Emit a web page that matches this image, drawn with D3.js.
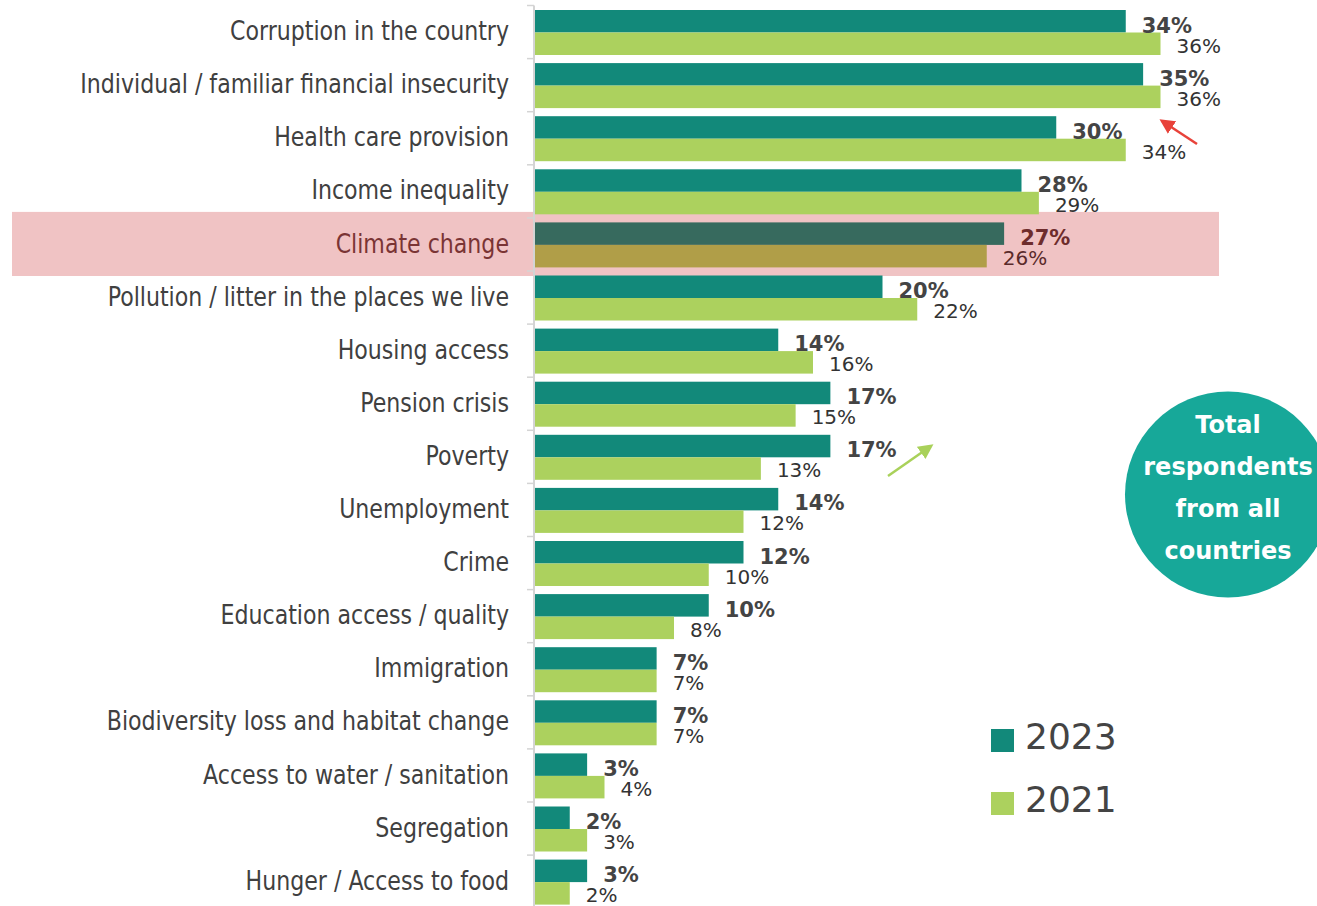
<!DOCTYPE html>
<html>
<head>
<meta charset="utf-8">
<script src="https://cdn.jsdelivr.net/npm/d3@7"></script>
<style>
  html, body { margin: 0; padding: 0; background: #ffffff; }
  svg { display: block; }
</style>
</head>
<body>
<svg id="chart" width="1317" height="906"></svg>
<script>
// Concerns, ordered as presented
const categories = [
  "Corruption in the country",
  "Individual / familiar financial insecurity",
  "Health care provision",
  "Income inequality",
  "Climate change",
  "Pollution / litter in the places we live",
  "Housing access",
  "Pension crisis",
  "Poverty",
  "Unemployment",
  "Crime",
  "Education access / quality",
  "Immigration",
  "Biodiversity loss and habitat change",
  "Access to water / sanitation",
  "Segregation",
  "Hunger / Access to food"
];
// Share of respondents (%) per survey year
const values2023 = [34, 35, 30, 28, 27, 20, 14, 17, 17, 14, 12, 10, 7, 7, 3, 2, 3];
const values2021 = [36, 36, 34, 29, 26, 22, 16, 15, 13, 12, 10, 8, 7, 7, 4, 3, 2];
const years = ["2023", "2021"];
const highlighted = "Climate change";
const badgeLines = ["Total", "respondents", "from all", "countries"];

const svg = d3.select("#chart");
const labelFont = "'DejaVu Sans Condensed', 'DejaVu Sans', sans-serif";
const valueFont = "'DejaVu Sans', Verdana, sans-serif";

const colors = { "2023": "#12897a", "2021": "#acd15e" };
const hiColors = { "2023": "#376a5e", "2021": "#b09e48" };

const x = d3.scaleLinear().domain([0, 40]).range([535, 1230]);
const y = d3.scaleBand().domain(categories).range([5.5, 908.2]).padding(0);
const sub = d3.scaleBand().domain(years).range([4.5, 49.5]).padding(0);

const rows = categories.map((c, i) => ({
  cat: c,
  vals: { "2023": values2023[i], "2021": values2021[i] }
}));

// highlight band behind the emphasised concern
svg.append("rect")
  .attr("x", 12)
  .attr("y", y(highlighted) - 6)
  .attr("width", 1219 - 12)
  .attr("height", y.bandwidth() + 11)
  .attr("fill", "#f0c3c4");

// axis line with ticks at row boundaries
const axisG = svg.append("g");
axisG.append("line")
  .attr("x1", 534).attr("x2", 534)
  .attr("y1", y.range()[0]).attr("y2", 906)
  .attr("stroke", "#d4d4d4").attr("stroke-width", 2);
axisG.selectAll("line.tick")
  .data(categories)
  .join("line")
  .attr("class", "tick")
  .attr("x1", 527).attr("x2", 534)
  .attr("y1", d => y(d)).attr("y2", d => y(d))
  .attr("stroke", "#d4d4d4").attr("stroke-width", 1.5);

// category labels (narrowed horizontally to a condensed width)
const yAxis = d3.axisLeft(y).tickSize(0).tickPadding(0);
const yAxisG = svg.append("g")
  .attr("transform", "translate(509,0) scale(0.91,1)")
  .call(yAxis);
yAxisG.select(".domain").remove();
yAxisG.selectAll("text")
  .attr("font-family", labelFont)
  .attr("font-size", 27)
  .attr("dy", "0.3em")
  .attr("fill", d => d === highlighted ? "#7a3434" : "#404040");

// bars
const rowG = svg.append("g").selectAll("g")
  .data(rows)
  .join("g")
  .attr("transform", d => `translate(0,${y(d.cat)})`);

rowG.selectAll("rect")
  .data(d => years.map(yr => ({ yr, v: d.vals[yr], hi: d.cat === highlighted })))
  .join("rect")
  .attr("x", x(0))
  .attr("y", d => sub(d.yr))
  .attr("width", d => x(d.v) - x(0))
  .attr("height", sub.bandwidth())
  .attr("fill", d => d.hi ? hiColors[d.yr] : colors[d.yr]);

// value labels
rowG.selectAll("text.val")
  .data(d => years.map(yr => ({ yr, v: d.vals[yr], hi: d.cat === highlighted })))
  .join("text")
  .attr("class", "val")
  .attr("x", d => x(d.v) + 16)
  .attr("y", d => sub(d.yr) + (d.yr === "2023" ? 22.5 : 20))
  .attr("font-family", valueFont)
  .attr("font-size", d => d.yr === "2023" ? 21 : 20)
  .attr("font-weight", d => d.yr === "2023" ? "bold" : "normal")
  .attr("fill", d => d.hi ? (d.yr === "2023" ? "#6e2c2c" : "#5a2a2a") : (d.yr === "2023" ? "#444444" : "#333333"))
  .text(d => d.v + "%");

// arrows marking notable changes
const defs = svg.append("defs");
function arrowMarker(id, color) {
  defs.append("marker")
    .attr("id", id)
    .attr("viewBox", "0 0 10 10")
    .attr("refX", 8).attr("refY", 5)
    .attr("markerWidth", 6).attr("markerHeight", 6)
    .attr("orient", "auto")
    .append("path")
    .attr("d", "M0,0 L10,5 L0,10 Z")
    .attr("fill", color);
}
arrowMarker("arrowRed", "#e8423a");
arrowMarker("arrowGreen", "#a9d15a");

svg.append("line")
  .attr("x1", 1197).attr("y1", 144)
  .attr("x2", 1162).attr("y2", 121)
  .attr("stroke", "#e8423a").attr("stroke-width", 2.5)
  .attr("marker-end", "url(#arrowRed)");
svg.append("line")
  .attr("x1", 888).attr("y1", 476)
  .attr("x2", 931).attr("y2", 446)
  .attr("stroke", "#a9d15a").attr("stroke-width", 2.5)
  .attr("marker-end", "url(#arrowGreen)");

// badge
svg.append("circle")
  .attr("cx", 1228).attr("cy", 494.5).attr("r", 103)
  .attr("fill", "#17a899");
svg.append("g").selectAll("text")
  .data(badgeLines)
  .join("text")
  .attr("x", 1228)
  .attr("y", (d, i) => 433 + i * 42)
  .attr("text-anchor", "middle")
  .attr("font-family", valueFont)
  .attr("font-weight", "bold")
  .attr("font-size", 24)
  .attr("fill", "#ffffff")
  .text(d => d);

// legend
const legend = svg.append("g").selectAll("g")
  .data(years)
  .join("g")
  .attr("transform", (d, i) => `translate(991,${729 + i * 63})`);
legend.append("rect")
  .attr("width", 23).attr("height", 23)
  .attr("fill", d => colors[d]);
legend.append("text")
  .attr("x", 34).attr("y", 20)
  .attr("font-family", valueFont)
  .attr("font-size", 36)
  .attr("fill", "#444444")
  .text(d => d);
</script>
</body>
</html>
